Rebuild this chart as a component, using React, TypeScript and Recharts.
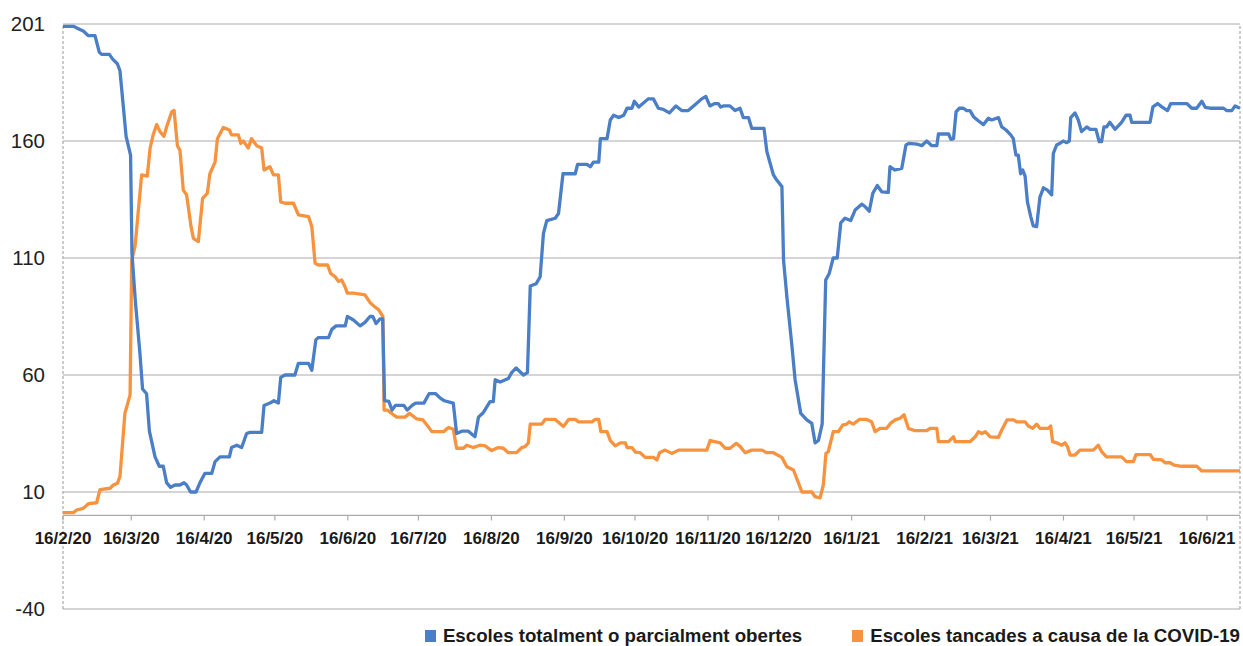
import React from 'react';
import { LineChart, Line, XAxis, YAxis, CartesianGrid, ReferenceLine, Legend } from 'recharts';

// day index counted from 16/2/20
const openSchools: [number, number][] = [
  [0, 209], [4.4, 209], [6.5, 208], [8.6, 207], [10.8, 205], [13.6, 205], [15.4, 198], [16.4, 197],
  [19.7, 197], [21.1, 195], [23.1, 193], [24.2, 190], [25.6, 175], [26.8, 162], [28.7, 154], [29.3, 112],
  [30.7, 92], [32.7, 69], [33.8, 54], [35.5, 52], [36.7, 36], [39.1, 25], [40.9, 21], [42.6, 21],
  [44, 14], [45.7, 12], [47.6, 13], [49.7, 13], [51.4, 14], [52.5, 13], [54.2, 10], [56.5, 10],
  [58.2, 14], [60.3, 18], [63.2, 18], [64.6, 23], [66.7, 25], [70.7, 25], [71.6, 29], [73.8, 30],
  [75.9, 29], [78, 35], [79.4, 35.5], [84.4, 35.5], [85.4, 47], [87.9, 48], [89.6, 49], [91.5, 48],
  [92.5, 59], [94.3, 60], [98.5, 60], [100, 65], [104.3, 65], [105.7, 62], [107.4, 75], [108.5, 76],
  [112.8, 76], [114.2, 79.5], [116, 81], [119.9, 81], [120.8, 85], [123.4, 83.5], [126.2, 81], [128.3, 82.5],
  [130.4, 85], [131.6, 85], [133, 82], [134.7, 84], [135.8, 84], [136.6, 49], [138.4, 48.7], [139.8, 45],
  [141.2, 47], [144.8, 47], [146.2, 45], [148.3, 47], [149.8, 48], [153.3, 48], [155.5, 52], [158.3, 52],
  [160.4, 50], [162, 49], [165.8, 48], [167.2, 35], [169.4, 36], [172.2, 36], [175, 33.6], [176.5, 42],
  [178.6, 44], [181.4, 48.6], [182.8, 48.6], [183.6, 58], [185.7, 57], [189.2, 58.5], [190.6, 61], [192.5, 63],
  [195.6, 60], [197.3, 61], [198.5, 98], [201, 99], [202.7, 102], [204.1, 120.5], [205.5, 126], [209.1, 127],
  [210.5, 129], [212.4, 146], [217.6, 146], [218.6, 150], [222.6, 150], [224, 149], [225.4, 151], [227.6, 151],
  [228.3, 161], [231.1, 161], [232.5, 169], [233.9, 171], [236.1, 170], [238.2, 171], [239.6, 174], [241.7, 174],
  [242.7, 177], [244.6, 174.5], [248.6, 178], [250.8, 178], [252.9, 174], [255, 173.5], [257.6, 172], [260.4, 175],
  [262.8, 173], [265.6, 173], [268.5, 175.5], [271.3, 178], [273.1, 179], [274.8, 175], [276.9, 176], [278.4, 176],
  [279.4, 174.5], [280.5, 175], [283.3, 175], [285.5, 173], [287.6, 174], [289, 170], [291.2, 170], [292.6, 165.4],
  [297.8, 165.4], [299, 155.5], [301.8, 145.5], [303.2, 143.3], [305.4, 140.5], [306.1, 109], [307.5, 93.5], [309.6, 73],
  [311, 58], [313.4, 43.6], [316, 40.8], [318.1, 39.3], [319.5, 31], [320.9, 32], [322.5, 39], [324, 100.6],
  [325.5, 103.4], [327.2, 110], [328.9, 110], [330.4, 125], [332.2, 127], [334.6, 126], [336.5, 130.5], [339.3, 133],
  [340.7, 132], [342.5, 130], [344, 137.6], [345.9, 141], [347.8, 138.3], [350.6, 138], [351.3, 149], [353.4, 147.6],
  [356.3, 148.3], [358.1, 158.3], [359.5, 159], [362.7, 158.7], [364.8, 158], [366.9, 160], [369.1, 158], [371.2, 158],
  [371.9, 163], [376.2, 163], [377.2, 160.7], [378.3, 161], [379.4, 172.5], [380.8, 174], [382.5, 174], [383.9, 173],
  [385.3, 173], [386.8, 170.4], [388.4, 169], [391, 167], [393.1, 169.7], [394.5, 169], [397.4, 170], [398.8, 166],
  [400.6, 164.7], [402.6, 162.6], [403.7, 161], [404.8, 154], [405.8, 154], [406.8, 146], [407.7, 147.6], [408.7, 145],
  [409.7, 134], [411.1, 127.7], [412.2, 123.7], [413.6, 123.4], [415, 136], [416.5, 140], [418.2, 139], [420, 137],
  [420.7, 154.7], [422.1, 158.3], [423.5, 159], [424.9, 160], [426.4, 159.3], [427.5, 160], [428.1, 170], [429.9, 172],
  [431.3, 169], [432.7, 164], [434.9, 166], [436.3, 165], [438.8, 165], [440.2, 159.7], [441.2, 159.7], [442.2, 166],
  [443.3, 166], [444.7, 168], [446.9, 165], [449.7, 168], [451.6, 171], [453.3, 171], [454, 168], [461.8, 168],
  [463, 174.6], [465, 176], [466.8, 174.6], [469.2, 173], [470.6, 176], [477.4, 176], [479.5, 174], [481.6, 174],
  [483.8, 177], [485.2, 174.4], [487.3, 174], [493, 174], [494.4, 173], [496.5, 173], [497.9, 175], [500, 174],
];

const closedSchools: [number, number][] = [
  [0, 1.2], [4.4, 1.2], [5.8, 2.3], [8.6, 3], [10.8, 5], [14.3, 5.4], [15.7, 11], [20, 11.6],
  [21.4, 13], [23.1, 13.7], [24.2, 16.6], [26.3, 43.6], [28.5, 51.5], [29.2, 109], [30.6, 115], [33.4, 145.5],
  [35.8, 145], [37, 157], [38.4, 163], [39.8, 167], [41.2, 164], [42.9, 162], [44, 166], [46.2, 172.5],
  [47.2, 173], [48.6, 158], [49.7, 156], [51.1, 139], [52.5, 137], [54.4, 123.4], [55.4, 118.4], [57.5, 117],
  [59.3, 135.5], [61.3, 137.6], [62.4, 146], [64.6, 151], [65.6, 161], [68.1, 165.8], [70.7, 164.7], [71.6, 162.6],
  [74.5, 162.6], [75.5, 159], [76.6, 160], [78.7, 157], [80.1, 161], [82.3, 158], [84.4, 157], [85.4, 147.6],
  [87.9, 149], [89.4, 145.5], [91.5, 145.5], [92.5, 134], [94.3, 133.4], [97.9, 133.4], [100, 128.4], [104.3, 127.7],
  [105.7, 123.4], [107.1, 107.7], [108.5, 107], [112.4, 107], [113.7, 103.4], [115.6, 102], [117, 100], [118.4, 100.6],
  [119.8, 97.7], [120.8, 95], [123.4, 95], [128.3, 94.2], [130.4, 91], [132.6, 89], [134, 88], [135.9, 85],
  [136.4, 45], [137.8, 45], [140.4, 43], [141.8, 42], [145.3, 42], [147.2, 43.6], [150.3, 41.2], [152.9, 40.8],
  [154.6, 38.6], [156.7, 35.8], [161.7, 35.8], [163.8, 37.6], [165.8, 36.8], [167.2, 28.7], [170.1, 28.7], [171.5, 30],
  [174.3, 29], [177.1, 30], [179.3, 29.7], [182.1, 27.7], [184.9, 29], [187.1, 28.7], [189.2, 26.8], [192.7, 26.8],
  [194.9, 29], [196.3, 29.4], [197.7, 31], [198.5, 39], [203.4, 39], [204.8, 41], [209.1, 41], [212.6, 38],
  [214.8, 41], [217.6, 41], [219, 40], [224.7, 40], [226.1, 41], [227.6, 41], [228.5, 35.8], [231.1, 35.8],
  [232.5, 32], [234.6, 29.7], [236.8, 31], [238.9, 31], [239.6, 29], [241.7, 29], [243.2, 27], [245.2, 26.8],
  [247.3, 24.8], [250.8, 24.8], [252.3, 23.7], [253.4, 26.8], [255.8, 27.9], [258.6, 26.5], [261.5, 27.9], [273.5, 27.9],
  [274.9, 32], [279.2, 31], [281.3, 28.7], [283.4, 28.7], [286, 30.8], [287.7, 29.4], [289.8, 26.8], [292.6, 27.9],
  [296.9, 27.9], [299, 26.8], [301.8, 26.8], [305.4, 24.8], [307.5, 20.8], [310.3, 19.4], [312.5, 13.7], [313.9, 10],
  [318.1, 10], [319.5, 8], [321.6, 7.5], [323, 13], [324.1, 26.5], [325.1, 27.2], [327.2, 35.8], [329.4, 35.8],
  [331.2, 38.6], [332.9, 39], [334, 40], [335.7, 39], [338.3, 41], [341.4, 41], [343.5, 40], [345, 35.8],
  [347.1, 37.2], [349.9, 37.2], [351.6, 39.4], [353.5, 40.8], [355.6, 41.5], [357.3, 43], [359.1, 37.2], [362, 36.2],
  [366.9, 36.2], [368.4, 37.2], [371.2, 37.2], [371.9, 31.5], [376.2, 31.5], [378.3, 33.6], [379, 31.5], [385.3, 31.5],
  [387.5, 33.6], [388.9, 35.8], [390.3, 35], [391.8, 35.8], [393.9, 33.6], [397.4, 33.4], [398.8, 36.5], [401, 40.8],
  [403.8, 40.8], [405.1, 40], [408.7, 40], [410.1, 38.2], [411.9, 37.2], [413.6, 39], [415, 37.2], [418.6, 37.2],
  [419.6, 38.2], [420.4, 31.5], [422.1, 31], [424.3, 30], [425.7, 31], [426.7, 29.4], [427.8, 25.8], [429.9, 25.8],
  [432, 27.9], [437.7, 27.9], [439.8, 30], [441.2, 27.3], [443.3, 25], [449.7, 25], [451.8, 23], [454.7, 23],
  [455.8, 26], [461.8, 26], [463.2, 24], [466.8, 23.7], [468.2, 22.5], [470.3, 22.5], [472, 21.5], [475.3, 21],
  [481.6, 21], [483.8, 19], [500, 19],
];

const tickDays = [0, 29, 60, 90, 121, 151, 182, 213, 243, 274, 304, 335, 366, 394, 425, 455, 486];
const tickLabels = [
  '16/2/20', '16/3/20', '16/4/20', '16/5/20', '16/6/20', '16/7/20', '16/8/20', '16/9/20', '16/10/20',
  '16/11/20', '16/12/20', '16/1/21', '16/2/21', '16/3/21', '16/4/21', '16/5/21', '16/6/21',
];
const yTicks = [-40, 10, 60, 110, 160, 210];
const yTickLabels = ['-40', '10', '60', '110', '160', '201'];

const seriesNames = ['Escoles totalment o parcialment obertes', 'Escoles tancades a causa de la COVID-19'];

const BLUE = '#4a7ec6';
const ORANGE = '#f7923f';
const GRID = '#ababab';
const FONT = '"Liberation Sans", Arial, Helvetica, sans-serif';

const toPoints = (arr: [number, number][]) => arr.map(([day, value]) => ({ day, value }));

const LegendContent = () => (
  <div
    style={{
      display: 'flex',
      justifyContent: 'flex-end',
      alignItems: 'center',
      gap: 50,
      fontFamily: FONT,
      fontWeight: 'bold',
      fontSize: 18.7,
      color: '#1a1a1a',
      whiteSpace: 'nowrap',
    }}
  >
    {[BLUE, ORANGE].map((c, i) => (
      <div key={i} style={{ display: 'flex', alignItems: 'center' }}>
        <span style={{ display: 'inline-block', width: 11, height: 12, background: c, marginRight: 7 }} />
        <span>{seriesNames[i]}</span>
      </div>
    ))}
  </div>
);

export default function App() {
  return (
    <div style={{ position: 'absolute', left: 0, top: 0, width: 1243, height: 646, background: '#fff' }}>
      <LineChart width={1243} height={646} margin={{ top: 24, right: 3, bottom: 37, left: 0 }}>
        <CartesianGrid horizontal vertical={false} stroke={GRID} strokeWidth={1.2} />
        <XAxis dataKey="day" type="number" domain={[0, 500]} allowDataOverflow hide />
        <YAxis
          type="number"
          domain={[-40, 210]}
          ticks={yTicks}
          interval={0}
          width={63}
          axisLine={false}
          tickLine={false}
          tickMargin={12}
          tickFormatter={(v: number) => yTickLabels[yTicks.indexOf(v)]}
          tick={{ fontSize: 20.5, fill: '#222', fontFamily: FONT }}
        />
        <ReferenceLine x={0} stroke="#aaa" strokeDasharray="3 2" strokeWidth={1.2} />
        <ReferenceLine x={500} stroke="#aaa" strokeDasharray="3 2" strokeWidth={1.2} />
        <ReferenceLine y={0} stroke={GRID} strokeWidth={1.2} />
        {tickDays.map((d, i) => (
          <ReferenceLine
            key={d}
            segment={[{ x: d, y: 0 }, { x: d, y: -2.2 }]}
            stroke={GRID}
            strokeWidth={1.2}
            label={{
              value: tickLabels[i],
              position: 'bottom',
              offset: 11,
              fill: '#1a1a1a',
              fontSize: 17,
              fontWeight: 'bold',
              fontFamily: FONT,
            }}
          />
        ))}
        <Line
          data={toPoints(closedSchools)}
          dataKey="value"
          name={seriesNames[1]}
          type="linear"
          stroke={ORANGE}
          strokeWidth={3.3}
          dot={false}
          strokeLinejoin="round"
          isAnimationActive={false}
        />
        <Line
          data={toPoints(openSchools)}
          dataKey="value"
          name={seriesNames[0]}
          type="linear"
          stroke={BLUE}
          strokeWidth={3.3}
          dot={false}
          strokeLinejoin="round"
          isAnimationActive={false}
        />
        <Legend
          verticalAlign="middle"
          align="center"
          layout="horizontal"
          content={<LegendContent />}
          wrapperStyle={{ top: 625, left: 0, width: 1240, height: 24 }}
        />
      </LineChart>
    </div>
  );
}
